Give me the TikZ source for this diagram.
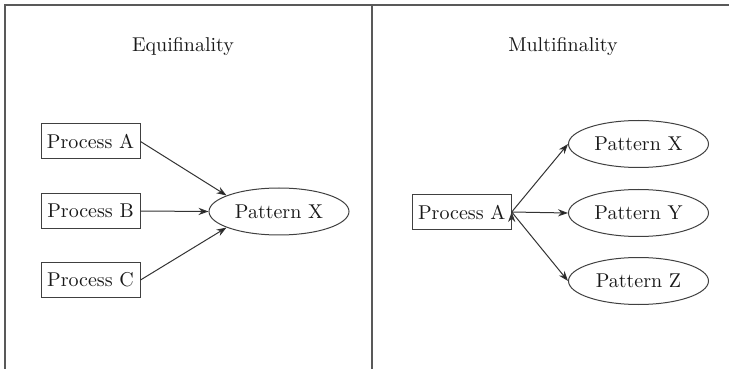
\documentclass[tikz,border=0pt]{standalone}
\usepackage{tikz}
\usetikzlibrary{shapes.geometric, arrows.meta}
\usetikzlibrary{positioning}

\begin{document}
\begin{tikzpicture}[x=0.5pt, y=-0.5pt, ->, >={Stealth[length=5pt, width=3.6pt, inset=1.6pt]}, black!90,
	procbox/.style={rectangle, minimum width=49.5pt, minimum height=17.5pt, inner sep=1pt, draw=black!75, line width=0.5pt},
	pattern/.style={ellipse, minimum width=70pt, minimum height=23.5pt, inner sep=1pt, draw=black!75, line width=0.5pt},
	frame/.style={-, draw=black!65, line width=0.6pt}]
	\useasboundingbox (0,0) rectangle (729,369);
	% frame and divider
	\coordinate (tl) at (5,5);
	\coordinate (tr) at (729,5);
	\coordinate (bl) at (5,369);
	\coordinate (mt) at (372,5);
	\coordinate (mb) at (372,369);
	\draw[frame] (bl) -- (tl) -- (tr);
	\draw[frame] (mt) -- (mb);

	% equifinality
	\node (equi) at (183,47)                    {Equifinality};
	\node[procbox] (pa) at (90.5,141.5)         {Process A};
	\node[procbox] (pb) at (90.5,211)           {Process B};
	\node[procbox] (pc) at (90.5,280)           {Process C};
	\node[pattern] (px) at (279,211.5)          {Pattern X};

	% multifinality
	\node (multi) at (563,47)                   {Multifinality};
	\node[procbox] (qa) at (461.7,212)          {Process A};
	\node[pattern] (rx) at (638.5,144)          {Pattern X};
	\node[pattern] (ry) at (638.5,213)          {Pattern Y};
	\node[pattern] (rz) at (638.5,281)          {Pattern Z};

	\path[line width=0.5pt, draw=black!80] (pa.east) edge (px.163)
	(pb.east) edge (px.west)
	(pc.east) edge (px.197)
	(qa.east) edge (rx.west)
	(qa.east) edge (ry.west)
	(qa.east) edge (rz.west);
\end{tikzpicture}
\end{document}
